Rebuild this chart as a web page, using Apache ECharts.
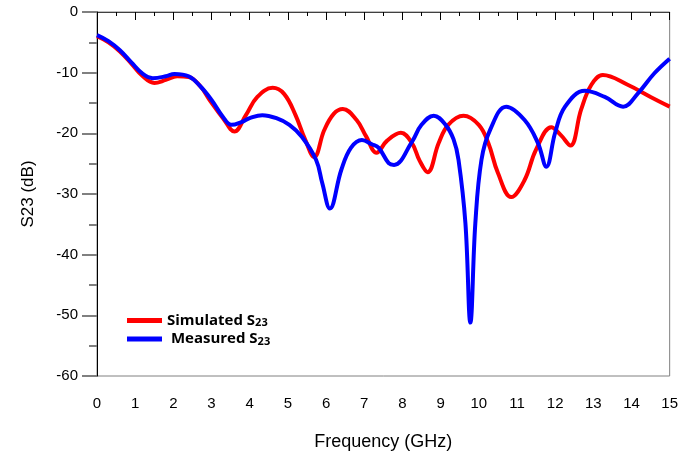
<!DOCTYPE html>
<html>
<head>
<meta charset="utf-8">
<script src="https://cdn.jsdelivr.net/npm/echarts@6/dist/echarts.min.js"></script>
<style>
	html,body{margin:0;padding:0;background:#fff;}
	#main{width:681px;height:457px;}
</style>
</head>
<body>
<div id="main"></div>
<script>
// 仿真 S23 (频率 GHz, dB)
var simulated = [
	[0,-4.0],[0.3,-5.0],[0.6,-6.5],[0.9,-8.5],[1.2,-10.6],[1.5,-11.7],[1.8,-11.2],[2.1,-10.6],
	[2.4,-10.7],[2.7,-12.2],[2.95,-14.5],[3.3,-17.5],[3.6,-19.7],[3.9,-17.0],[4.2,-14.0],[4.6,-12.5],
	[4.9,-13.5],[5.2,-17.0],[5.45,-21.0],[5.69,-23.9],[5.95,-19.5],[6.2,-16.8],[6.44,-16.0],[6.8,-17.8],
	[7.05,-20.5],[7.32,-23.2],[7.6,-21.2],[7.96,-19.9],[8.25,-21.6],[8.45,-24.5],[8.66,-26.4],[8.95,-21.6],
	[9.2,-18.6],[9.6,-17.1],[10.0,-18.6],[10.25,-21.6],[10.5,-26.5],[10.85,-30.5],[11.2,-27.7],[11.5,-22.7],
	[11.9,-19.0],[12.15,-20.3],[12.4,-22.0],[12.68,-16.1],[12.95,-12.0],[13.25,-10.4],[13.9,-12.0],[14.5,-14.0],
	[15,-15.6]
];
// 实测 S23
var measured = [
	[0,-3.8],[0.3,-4.8],[0.6,-6.3],[0.9,-8.3],[1.2,-10.2],[1.46,-10.9],[1.8,-10.6],[2.03,-10.2],
	[2.4,-10.6],[2.7,-12.2],[3.0,-14.5],[3.3,-17.3],[3.52,-18.6],[3.8,-18.1],[4.0,-17.5],[4.33,-17.0],
	[4.7,-17.5],[5.04,-18.6],[5.37,-20.6],[5.74,-24.4],[5.9,-28.2],[6.1,-32.4],[6.4,-26.0],[6.65,-22.4],
	[6.94,-21.1],[7.2,-21.8],[7.38,-22.4],[7.64,-24.9],[7.78,-25.2],[8.25,-21.4],[8.5,-18.6],[8.82,-17.1],
	[9.13,-18.6],[9.34,-21.0],[9.47,-24.4],[9.65,-34.8],[9.78,-51.2],[9.91,-34.8],[10.07,-24.4],[10.3,-19.4],
	[10.72,-15.6],[11.2,-17.8],[11.55,-21.6],[11.77,-25.5],[12.0,-19.9],[12.26,-15.6],[12.78,-13.0],[13.3,-14.0],
	[13.78,-15.6],[14.17,-13.4],[14.6,-10.1],[15,-7.7]
];
var seriesNames = ["Simulated S23","Measured S23"];
var xTicks = [0,1,2,3,4,5,6,7,8,9,10,11,12,13,14,15];
var yTicks = [0,-10,-20,-30,-40,-50,-60];

var chart = echarts.init(document.getElementById("main"));
var axisFont = {fontFamily:"Liberation Sans", fontSize:15, color:"#000"};

var option = {
	animation:false,
	backgroundColor:"#fff",
	grid:{left:97, right:9, top:12, bottom:81, show:true, borderColor:"#808080", borderWidth:1},
	legend:{
		orient:"vertical",
		left:122, top:308,
		itemWidth:35, itemHeight:5, itemGap:3,
		icon:"rect",
		data:seriesNames,
		formatter:function(name){
			if(name==="Simulated S23") return "{a|Simulated S}{b|23}";
			return "{a| Measured S}{b|23}";
		},
		textStyle:{
			rich:{
				a:{fontFamily:"Open Sans", fontWeight:"bold", fontSize:15, color:"#000"},
				b:{fontFamily:"Open Sans", fontWeight:"bold", fontSize:11, color:"#000", padding:[5,0,0,0]}
			}
		}
	},
	xAxis:{
		type:"value", min:xTicks[0], max:xTicks[xTicks.length-1], interval:1,
		name:"Frequency (GHz)", nameLocation:"middle", nameGap:57,
		nameTextStyle:{fontFamily:"Liberation Sans", fontSize:18, color:"#000"},
		axisLine:{lineStyle:{color:"#404040", width:1}},
		axisTick:{length:8, lineStyle:{color:"#000"}},
		minorTick:{show:true, splitNumber:2, length:4, lineStyle:{color:"#000"}},
		axisLabel:Object.assign({margin:20}, axisFont),
		splitLine:{show:false}
	},
	yAxis:{
		type:"value", min:yTicks[yTicks.length-1], max:yTicks[0], interval:10,
		name:"S23 (dB)", nameLocation:"middle", nameGap:60,
		nameTextStyle:{fontFamily:"Liberation Sans", fontSize:17, color:"#000"},
		axisLine:{show:true, lineStyle:{color:"#000", width:1}},
		axisTick:{show:true, length:15, lineStyle:{color:"#808080", width:2}},
		minorTick:{show:true, splitNumber:2, length:8, lineStyle:{color:"#808080", width:2}},
		axisLabel:Object.assign({margin:19}, axisFont),
		splitLine:{show:false}
	},
	series:[
		{name:seriesNames[0], type:"line", data:simulated, smooth:0.4, showSymbol:false,
			lineStyle:{color:"#ff0000", width:4}, itemStyle:{color:"#ff0000"}},
		{name:seriesNames[1], type:"line", data:measured, smooth:0.4, showSymbol:false,
			lineStyle:{color:"#0000ff", width:4}, itemStyle:{color:"#0000ff"}}
	]
};
chart.setOption(option);
</script>
</body>
</html>
